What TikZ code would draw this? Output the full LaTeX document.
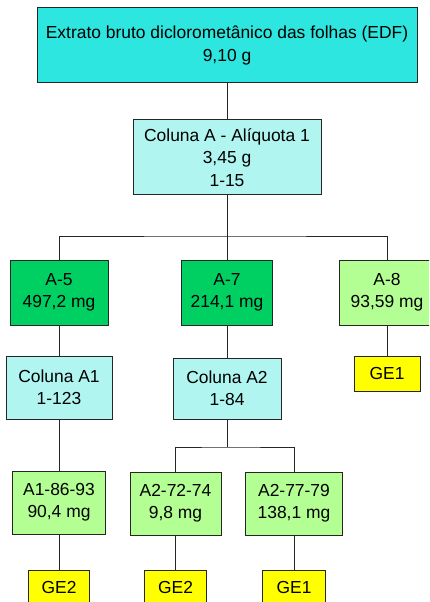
\documentclass[tikz,border=0pt]{standalone}
\usepackage{fontspec}
\setmainfont{Liberation Sans}
\usepackage{xcolor}
\usepackage{tikz}
\usetikzlibrary{positioning,calc}
\definecolor{EDFcyan}{HTML}{2DE6DF}
\definecolor{colcyan}{HTML}{B0F5F0}
\definecolor{fracgreen}{HTML}{00D062}
\definecolor{subgreen}{HTML}{B3FF94}
\definecolor{GEyellow}{HTML}{FFFF00}
\tikzset{
  box/.style={draw=black!85,line width=0.7pt,align=center,inner sep=2pt,font=\fontsize{12.4}{15.8}\selectfont},
  colbox/.style={box,fill=colcyan},
  fracbox/.style={box,fill=fracgreen},
  subbox/.style={box,fill=subgreen},
  gebox/.style={box,fill=GEyellow,minimum height=0.875cm},
  conn/.style={line width=0.7pt,black!85}
}
\begin{document}
\begin{tikzpicture}[x=1cm,y=1cm]
\path[use as bounding box,clip] (0,0) rectangle (10.725,15.05);

\node[box,fill=EDFcyan,minimum width=9.5cm,minimum height=1.875cm] (edf) at (5.675,13.9125) {Extrato bruto diclorometânico das folhas (EDF)\\9,10 g};
\node[colbox,minimum width=4.7cm,minimum height=1.875cm] (colA) at (5.675,11.1125) {Coluna A - Alíquota 1\\3,45 g\\1-15};

\node[fracbox,minimum width=2.45cm,minimum height=1.625cm] (a5) at (1.475,7.7375) {A-5\\497,2 mg};
\node[fracbox,minimum width=2.275cm,minimum height=1.625cm] (a7) at (5.675,7.7375) {A-7\\214,1 mg};
\node[subbox,minimum width=2.4cm,minimum height=1.625cm] (a8) at (9.675,7.7375) {A-8\\93,59 mg};

\node[colbox,minimum width=2.65cm,minimum height=1.575cm] (colA1) at (1.475,5.3625) {Coluna A1\\1-123};
\node[colbox,minimum width=2.7cm,minimum height=1.525cm] (colA2) at (5.675,5.3375) {Coluna A2\\1-84};
\node[gebox,minimum width=1.65cm] (ge1a) at (9.675,5.7125) {GE1};

\node[subbox,minimum width=2.325cm,minimum height=1.575cm] (a186) at (1.475,2.4875) {A1-86-93\\90,4 mg};
\node[subbox,minimum width=2.275cm,minimum height=1.575cm] (a272) at (4.3875,2.4625) {A2-72-74\\9,8 mg};
\node[subbox,minimum width=2.425cm,minimum height=1.575cm] (a277) at (7.35,2.4625) {A2-77-79\\138,1 mg};

\node[gebox,minimum width=1.525cm] (ge2a) at (1.475,0.3625) {GE2};
\node[gebox,minimum width=1.55cm] (ge2b) at (4.3875,0.3625) {GE2};
\node[gebox,minimum width=1.575cm] (ge1b) at (7.35,0.3625) {GE1};

\coordinate (j1) at (5.675,9.15);
\coordinate (j2) at (5.675,3.875);

\draw[conn] (edf) -- (colA);
\draw[conn] (colA) -- (j1);
\draw[conn] (a5.north) |- (j1) -| (a8.north);
\draw[conn] (j1) -- (a7);

\draw[conn] (a5) -- (colA1);
\draw[conn] (a7) -- (colA2);
\draw[conn] (a8) -- (ge1a);

\draw[conn] (colA1) -- (a186);
\draw[conn] (colA2) -- (j2);
\draw[conn] (a272.north) |- (j2) -| (a277.north);

\draw[conn] (a186) -- (ge2a);
\draw[conn] (a272) -- (ge2b);
\draw[conn] (a277) -- (ge1b);
\end{tikzpicture}
\end{document}
